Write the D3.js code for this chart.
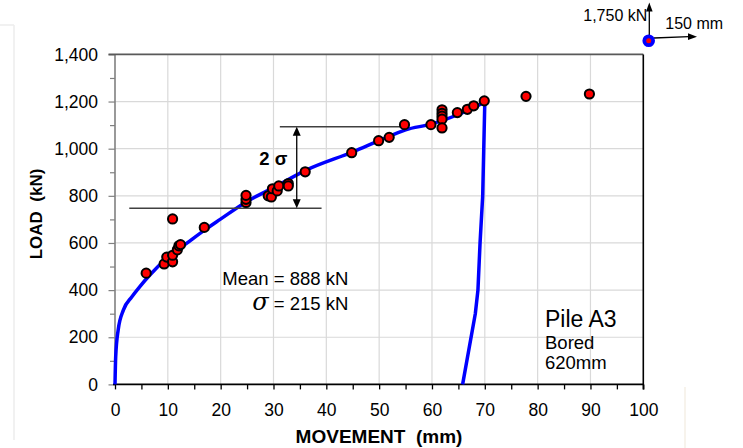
<!DOCTYPE html>
<html><head><meta charset="utf-8">
<script src="https://cdn.jsdelivr.net/npm/d3@7"></script>
<style>
html,body{margin:0;padding:0;background:#fff;}
svg{display:block;font-family:"Liberation Sans",Arial,sans-serif;}
</style></head>
<body><svg id="c" width="743" height="448"></svg>
<script>
// ---- data ----
const testMovement = [5.9, 9.3, 9.8, 10.9, 10.9, 11.8, 12.1, 12.4, 10.9, 16.9, 24.8, 24.8, 24.8, 29.0, 29.6, 29.8, 30.7, 31.0, 32.8, 32.8, 36.0, 44.8, 49.9, 51.9, 54.8, 59.8, 61.9, 61.9, 61.9, 61.9, 61.9, 64.8, 66.7, 67.9, 69.9, 77.8, 89.8];
const testLoad     = [472, 511, 540, 520, 548, 571, 588, 593, 702, 666, 772, 785, 802, 800, 795, 830, 821, 842, 852, 842, 902, 983, 1034, 1048, 1102, 1102, 1165, 1150, 1138, 1125, 1088, 1153, 1167, 1182, 1203, 1222, 1232];
const loadingMovement = [0, 0.13, 0.6, 1.6, 3.2, 4.7, 6.6, 9.8, 13.6, 17.4, 19.9, 24.9, 30, 36.3, 45.1, 50.2, 55, 60, 65, 68, 70];
const loadingLoad     = [0, 117, 231, 316, 372, 415, 464, 535, 599, 662, 700, 775, 835, 910, 987, 1036, 1080, 1105, 1145, 1175, 1198];
const unloadMovement = [70, 69.8, 69.6, 69.1, 68.7, 68.2, 65.8];
const unloadLoad     = [1198, 1000, 800, 600, 400, 300, 0];
const xTicks = [0, 10, 20, 30, 40, 50, 60, 70, 80, 90, 100];
const yTicks = [0, 200, 400, 600, 800, 1000, 1200, 1400];
const sigmaUpper = {load: 1093, from: 31.2, to: 55};
const sigmaLower = {load: 747, from: 2.7, to: 39.1};
const sigmaArrowX = 34.4;
const statLines = ["Mean = 888 kN", " = 215 kN"];
const pileLabels = ["Pile A3", "Bored", "620mm"];

// ---- chart ----
const svg = d3.select("#c");
const x = d3.scaleLinear().domain([0, 100]).range([115, 643.3]);
const y = d3.scaleLinear().domain([0, 1400]).range([384.4, 54.4]);

// faint outer frame
svg.append("line").attr("x1", 14).attr("x2", 14).attr("y1", 25).attr("y2", 440).attr("stroke", "#ececec").attr("stroke-width", 1.5);
svg.append("line").attr("x1", 0).attr("x2", 14).attr("y1", 25).attr("y2", 25).attr("stroke", "#ececec").attr("stroke-width", 1.5);
svg.append("line").attr("x1", 685).attr("x2", 685).attr("y1", 387).attr("y2", 448).attr("stroke", "#f5efe6").attr("stroke-width", 1.5);

// grid
const g = svg.append("g");
g.selectAll(".vg").data(xTicks.filter(d => d > 0 && d < 100)).join("line")
  .attr("x1", d => x(d)).attr("x2", d => x(d)).attr("y1", y(0)).attr("y2", y(1400))
  .attr("stroke", "#d9d9d9").attr("stroke-width", 1.2);
g.selectAll(".hg").data(yTicks.filter(d => d > 0 && d < 1400)).join("line")
  .attr("x1", x(0)).attr("x2", x(100)).attr("y1", d => y(d)).attr("y2", d => y(d))
  .attr("stroke", "#d9d9d9").attr("stroke-width", 1.2);

// axes
const yAxis = d3.axisLeft(y).tickValues(yTicks).tickSize(6.5).tickPadding(10.5).tickFormat(d3.format(","));
const ya = svg.append("g").attr("transform", `translate(${x(0)},0)`).call(yAxis);
ya.select(".domain").remove();
ya.selectAll("line").attr("stroke", "#808080").attr("stroke-width", 1.2);
ya.selectAll("text").attr("font-size", 17.5).attr("fill", "#000").attr("font-family", "Liberation Sans, Arial, sans-serif");
const yMinor = d3.axisLeft(y).tickValues(d3.range(100, 1400, 200)).tickSize(5).tickFormat("");
const ym = svg.append("g").attr("transform", `translate(${x(0)},0)`).call(yMinor);
ym.select(".domain").remove();
ym.selectAll("line").attr("stroke", "#808080").attr("stroke-width", 1.2);

const xAxis = d3.axisBottom(x).tickValues(xTicks).tickSize(5).tickPadding(14).tickFormat(d3.format("d"));
const xa = svg.append("g").attr("transform", `translate(0,${y(0)})`).call(xAxis);
xa.select(".domain").remove();
xa.selectAll("line").attr("stroke", "#000").attr("stroke-width", 1.3);
xa.selectAll("text").attr("font-size", 17.5).attr("fill", "#000").attr("font-family", "Liberation Sans, Arial, sans-serif");
const xMinor = d3.axisBottom(x).tickValues(d3.range(5, 100, 10)).tickSize(5).tickFormat("");
const xm = svg.append("g").attr("transform", `translate(0,${y(0)})`).call(xMinor);
xm.select(".domain").remove();
xm.selectAll("line").attr("stroke", "#000").attr("stroke-width", 1.3);

// frame lines
svg.append("line").attr("x1", x(0)).attr("x2", x(0)).attr("y1", y(0)).attr("y2", y(1400)).attr("stroke", "#808080").attr("stroke-width", 1.6);
svg.append("line").attr("x1", x(0) - 6.5).attr("x2", x(100)).attr("y1", y(1400)).attr("y2", y(1400)).attr("stroke", "#595959").attr("stroke-width", 1.6);
svg.append("line").attr("x1", x(100)).attr("x2", x(100)).attr("y1", y(1400)).attr("y2", y(0) + 5).attr("stroke", "#000").attr("stroke-width", 1.6);
svg.append("line").attr("x1", x(0) - 2).attr("x2", x(100)).attr("y1", y(0)).attr("y2", y(0)).attr("stroke", "#000").attr("stroke-width", 1.6);

// curves
const line = d3.line().x(d => x(d[0])).y(d => y(d[1]));
svg.append("path").datum(loadingMovement.map((m, i) => [m, loadingLoad[i]]))
  .attr("d", line.curve(d3.curveMonotoneX)).attr("fill", "none").attr("stroke", "#0000ff").attr("stroke-width", 3.5).attr("stroke-linejoin", "round");
svg.append("path").datum(unloadMovement.map((m, i) => [m, unloadLoad[i]]))
  .attr("d", d3.line().x(d => x(d[0])).y(d => y(d[1])).curve(d3.curveLinear)).attr("fill", "none").attr("stroke", "#0000ff").attr("stroke-width", 3.5).attr("stroke-linejoin", "round");

// 2 sigma annotation
svg.append("line").attr("x1", x(sigmaUpper.from)).attr("x2", x(sigmaUpper.to)).attr("y1", y(sigmaUpper.load)).attr("y2", y(sigmaUpper.load)).attr("stroke", "#404040").attr("stroke-width", 1.5);
svg.append("line").attr("x1", x(sigmaLower.from)).attr("x2", x(sigmaLower.to)).attr("y1", y(sigmaLower.load)).attr("y2", y(sigmaLower.load)).attr("stroke", "#404040").attr("stroke-width", 1.5);
const ax = x(sigmaArrowX), yt = y(sigmaUpper.load), yb = y(sigmaLower.load);
svg.append("line").attr("x1", ax).attr("x2", ax).attr("y1", yt + 6).attr("y2", yb - 6).attr("stroke", "#000").attr("stroke-width", 1.3);
svg.append("path").attr("d", `M${ax},${yt} L${ax - 4},${yt + 9} L${ax + 4},${yt + 9} Z`).attr("fill", "#000");
svg.append("path").attr("d", `M${ax},${yb} L${ax - 4},${yb - 9} L${ax + 4},${yb - 9} Z`).attr("fill", "#000");
svg.append("text").attr("x", 259.3).attr("y", 165).attr("font-size", 18.5).attr("font-weight", "bold").text("2 σ");

// test points
svg.selectAll(".pt").data(testMovement.map((m, i) => [m, testLoad[i]])).join("circle")
  .attr("cx", d => x(d[0])).attr("cy", d => y(d[1])).attr("r", 4.6)
  .attr("fill", "#ff0000").attr("stroke", "#000").attr("stroke-width", 2);

// stats text
svg.append("text").attr("x", 348.3).attr("y", 285).attr("text-anchor", "end").attr("font-size", 18.5).text(statLines[0]);
const t2 = svg.append("text").attr("x", 348.3).attr("y", 310).attr("text-anchor", "end").attr("font-size", 18.5);
t2.append("tspan").attr("font-style", "italic").attr("font-size", 24).attr("font-family", "DejaVu Serif, serif").text("σ");
t2.append("tspan").text(statLines[1]);

// pile label
svg.append("text").attr("x", 545).attr("y", 326.7).attr("font-size", 23).text(pileLabels[0]);
svg.append("text").attr("x", 545).attr("y", 349).attr("font-size", 18.5).text(pileLabels[1]);
svg.append("text").attr("x", 545).attr("y", 369.3).attr("font-size", 18.5).text(pileLabels[2]);

// axis titles
svg.append("text").attr("transform", "translate(42.3,214) rotate(-90)").attr("text-anchor", "middle")
  .attr("font-size", 17).attr("font-weight", "bold").attr("xml:space", "preserve").style("white-space", "pre").text("LOAD  (kN)");
svg.append("text").attr("x", 379).attr("y", 443.3).attr("text-anchor", "middle")
  .attr("font-size", 19).attr("font-weight", "bold").style("white-space", "pre").text("MOVEMENT  (mm)");

// scale key (top right)
svg.append("line").attr("x1", 649.3).attr("x2", 649.3).attr("y1", 38).attr("y2", 10).attr("stroke", "#000").attr("stroke-width", 1.3);
svg.append("path").attr("d", "M649.3,2.5 L646,11.5 L652.6,11.5 Z").attr("fill", "#000");
svg.append("line").attr("x1", 654).attr("x2", 689).attr("y1", 38).attr("y2", 36.7).attr("stroke", "#000").attr("stroke-width", 1.3);
svg.append("path").attr("d", "M697,36.7 L688,33.3 L688,40.1 Z").attr("fill", "#000");
svg.append("circle").attr("cx", 648.7).attr("cy", 40.7).attr("r", 4.4).attr("fill", "#ff0000").attr("stroke", "#0000ff").attr("stroke-width", 3.8);
svg.append("text").attr("x", 647.3).attr("y", 20.7).attr("text-anchor", "end").attr("font-size", 16).text("1,750 kN");
svg.append("text").attr("x", 665.3).attr("y", 29.3).attr("font-size", 16).text("150 mm");
</script></body></html>
